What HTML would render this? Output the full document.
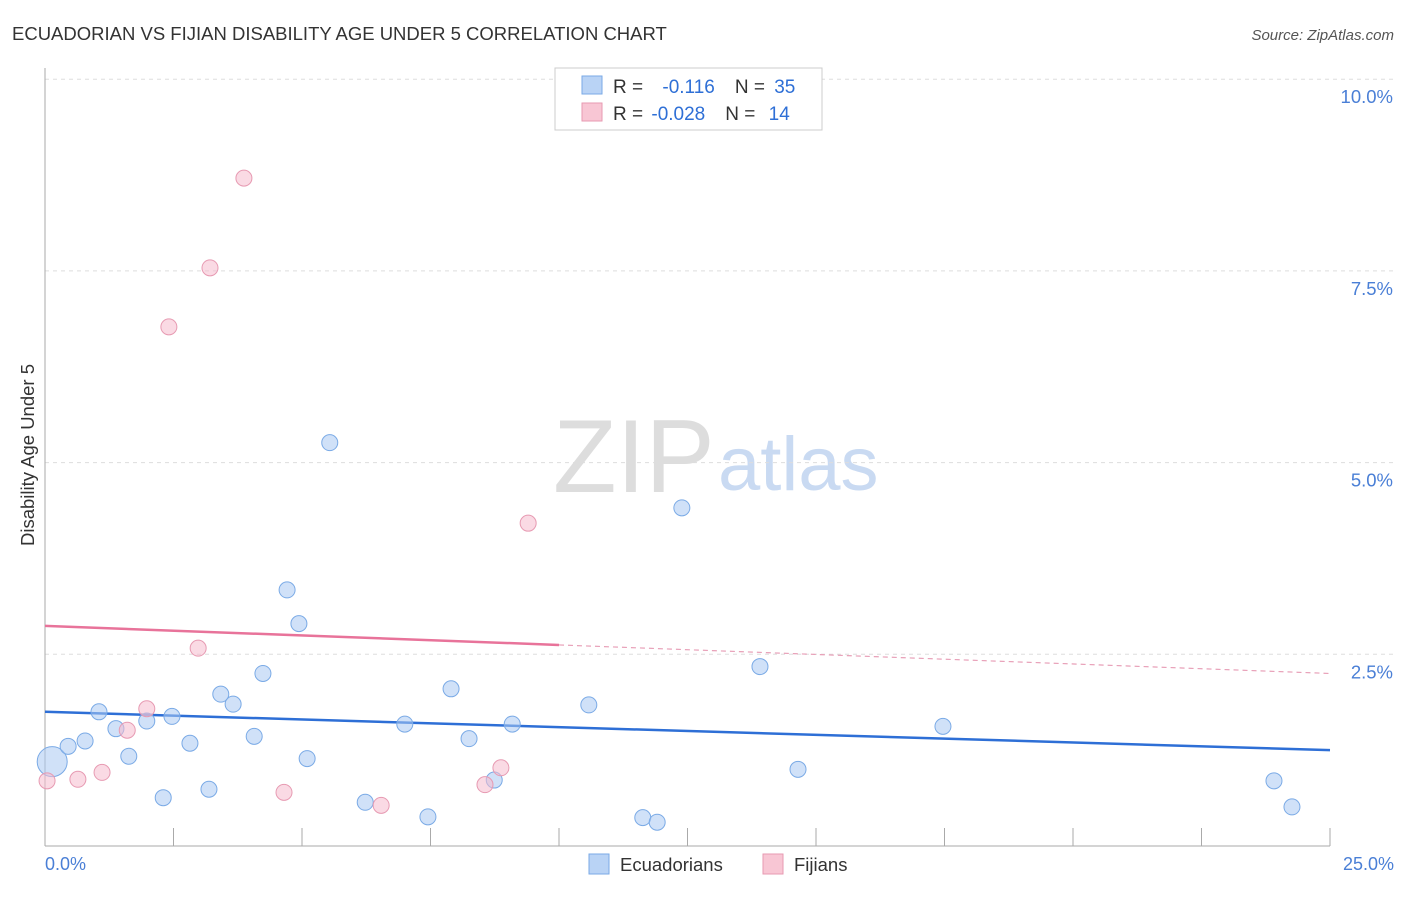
<!DOCTYPE html>
<html><head><meta charset="utf-8"><style>
body{margin:0;background:#fff;font-family:"Liberation Sans",sans-serif;}
svg text{font-family:"Liberation Sans",sans-serif;}
</style></head><body>
<svg id="chart" width="1406" height="892" xmlns="http://www.w3.org/2000/svg">
<text x="12" y="40" font-size="18.5" fill="#333">ECUADORIAN VS FIJIAN DISABILITY AGE UNDER 5 CORRELATION CHART</text>
<text x="1394" y="40" font-size="15" fill="#555" text-anchor="end" font-style="italic">Source: ZipAtlas.com</text>
<g><text x="553" y="492" font-size="104" fill="#ddd" font-family="Liberation Serif">ZIP</text><text x="718" y="490" font-size="76" fill="#c9daf2">atlas</text></g>
<g id="grid"></g>
<line x1="45" y1="68" x2="45" y2="846" stroke="#aaa"/>
<line x1="45" y1="846" x2="1330" y2="846" stroke="#aaa"/>
<text transform="translate(34,455) rotate(-90)" font-size="18.5" fill="#333" text-anchor="middle">Disability Age Under 5</text>
<text x="45" y="870" font-size="18" fill="#4a7fd6">0.0%</text>
<text x="1394" y="870" font-size="18" fill="#4a7fd6" text-anchor="end">25.0%</text>
<g id="lines"></g>
<g id="points"></g>
<g>
<rect x="555" y="68" width="267" height="62" fill="#fff" stroke="#ccc"/>
<rect x="582" y="76" width="20" height="18" fill="#b9d3f5" stroke="#7aaae6"/>
<rect x="582" y="103" width="20" height="18" fill="#f8c6d4" stroke="#e79ab2"/>
<text x="613" y="93" font-size="19" fill="#333">R = <tspan fill="#2e6fd6" dx="14">-0.116</tspan><tspan fill="#333" dx="20">N = </tspan><tspan fill="#2e6fd6" dx="4">35</tspan></text>
<text x="613" y="120" font-size="19" fill="#333">R = <tspan fill="#2e6fd6" dx="3">-0.028</tspan><tspan fill="#333" dx="20">N = </tspan><tspan fill="#2e6fd6" dx="8">14</tspan></text>
</g>
<g>
<rect x="589" y="854" width="20" height="20" fill="#b9d3f5" stroke="#7aaae6"/>
<text x="620" y="871" font-size="18.5" fill="#333">Ecuadorians</text>
<rect x="763" y="854" width="20" height="20" fill="#f8c6d4" stroke="#e79ab2"/>
<text x="794" y="871" font-size="18.5" fill="#333">Fijians</text>
</g>
</svg>
<script>
const yTicks=[2.5,5,7.5,10];
const yTickLabels=["2.5%","5.0%","7.5%","10.0%"];
const xTicks=[2.5,5,7.5,10,12.5,15,17.5,20,22.5,25];
const blueX=[0.14,0.45,0.78,1.05,1.38,1.63,1.98,2.30,2.47,2.82,3.19,3.42,3.66,4.07,4.24,4.71,4.94,5.10,5.54,6.23,7.00,7.45,7.90,8.25,8.74,9.09,10.58,11.63,11.91,12.39,13.91,14.65,17.47,23.91,24.26];
const blueY=[1.10,1.30,1.37,1.75,1.53,1.17,1.63,0.63,1.69,1.34,0.74,1.98,1.85,1.43,2.25,3.34,2.90,1.14,5.26,0.57,1.59,0.38,2.05,1.40,0.86,1.59,1.84,0.37,0.31,4.41,2.34,1.00,1.56,0.85,0.51];
const pinkX=[0.04,0.64,1.11,1.60,1.98,2.41,2.98,3.21,3.87,4.65,6.54,8.56,8.87,9.40];
const pinkY=[0.85,0.87,0.96,1.51,1.79,6.77,2.58,7.54,8.71,0.70,0.53,0.80,1.02,4.21];
const blueTrend=[1.75,1.25];
const pinkTrend=[2.87,2.25];
const pinkSolidEnd=10;
const NS="http://www.w3.org/2000/svg";
const X=v=>45+v*1285/25, Y=v=>846-v*76.68;
function mk(t,a,p){const e=document.createElementNS(NS,t);for(const k in a)e.setAttribute(k,a[k]);p.appendChild(e);return e;}
const g=document.getElementById('grid');
yTicks.forEach((t,i)=>{
 const l=mk('line',{x1:45,x2:1394,y1:Y(t),y2:Y(t),stroke:'#ddd','stroke-dasharray':'4,4'},g);
 
 
 const tx=mk('text',{x:1393,y:Y(t)+24,'font-size':18.5,fill:'#4a7fd6','text-anchor':'end'},g);
 tx.textContent=yTickLabels[i];
 
 
});
xTicks.forEach(t=>{
 const l=mk('line',{x1:X(t),x2:X(t),y1:828,y2:846,stroke:'#aaa'},g);
 
 
});
const L=document.getElementById('lines');
const bl=mk('line',{x1:X(0),y1:Y(blueTrend[0]),x2:X(25),y2:Y(blueTrend[1]),stroke:'#2e6fd6','stroke-width':2.5},L);


const pm=pinkTrend[0]+(pinkTrend[1]-pinkTrend[0])*pinkSolidEnd/25;
const pl=mk('line',{x1:X(0),y1:Y(pinkTrend[0]),x2:X(pinkSolidEnd),y2:Y(pm),stroke:'#e8739a','stroke-width':2.5},L);


const pd=mk('line',{x1:X(pinkSolidEnd),y1:Y(pm),x2:X(25),y2:Y(pinkTrend[1]),stroke:'#e8a0b8','stroke-width':1.2,'stroke-dasharray':'5,4'},L);


const P=document.getElementById('points');
blueX.forEach((x,i)=>{
 const c=mk('circle',{cx:X(x),cy:Y(blueY[i]),r:i==0?15:8,fill:'rgba(170,200,242,0.55)',stroke:'#7aaae6','stroke-width':1},P);
 
 
});
pinkX.forEach((x,i)=>{
 const c=mk('circle',{cx:X(x),cy:Y(pinkY[i]),r:8,fill:'rgba(246,188,206,0.55)',stroke:'#e79ab2','stroke-width':1},P);
 
 
});
</script>
</body></html>
